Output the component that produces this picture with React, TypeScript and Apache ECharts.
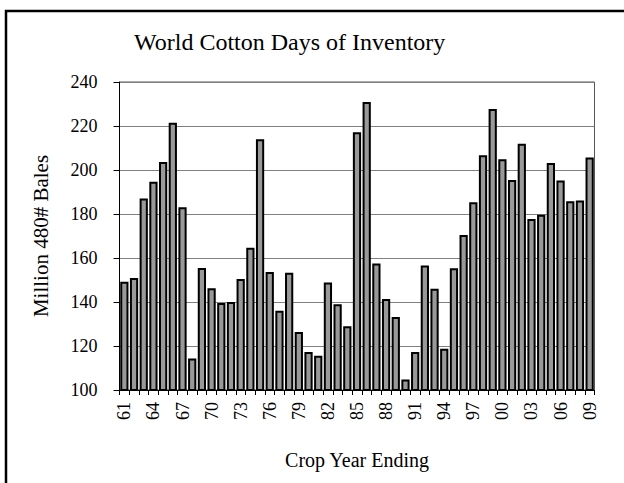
import React, { useEffect, useRef } from "react";
import * as echarts from "echarts";

const years: string[] = [
  "61","62","63","64","65","66","67","68","69","70",
  "71","72","73","74","75","76","77","78","79","80",
  "81","82","83","84","85","86","87","88","89","90",
  "91","92","93","94","95","96","97","98","99","00",
  "01","02","03","04","05","06","07","08","09",
];

const daysOfInventory: number[] = [
  149.2, 150.9, 187.0, 194.7, 203.6, 221.5, 183.1, 114.3, 155.4, 146.2,
  139.5, 140.0, 150.4, 164.7, 214.0, 153.6, 136.0, 153.3, 126.4, 117.3,
  115.6, 148.9, 139.0, 129.0, 217.2, 230.9, 157.5, 141.4, 133.2, 104.8,
  117.3, 156.6, 146.0, 118.7, 155.3, 170.4, 185.3, 206.7, 227.7, 204.9,
  195.5, 211.9, 177.7, 179.7, 203.2, 195.2, 185.8, 186.1, 205.7,
];

const yTicks = { min: 100, max: 240, interval: 20 };
const FONT = "Liberation Serif";

export default function App() {
  const ref = useRef<HTMLDivElement>(null);
  useEffect(() => {
    if (!ref.current) return;
    const chart = echarts.init(ref.current, null, { renderer: "svg" });
    chart.setOption({
      animation: false,
      backgroundColor: "#ffffff",
      textStyle: { fontFamily: FONT },
      title: {
        text: "World Cotton Days of Inventory",
        left: 129,
        top: 25,
        textStyle: { fontFamily: FONT, fontSize: 24, fontWeight: "normal", color: "#000" },
      },
      graphic: [
        {
          type: "rect",
          shape: { x: 6, y: 11, width: 650, height: 520 },
          style: { fill: "none", stroke: "#000", lineWidth: 2.5 },
          silent: true,
        },
      ],
      grid: {
        left: 119.5,
        right: 29.5,
        top: 82,
        bottom: 93,
        show: true,
        borderColor: "#555",
        borderWidth: 1,
        backgroundColor: "transparent",
      },
      xAxis: {
        type: "category",
        data: years,
        name: "Crop Year Ending",
        nameLocation: "middle",
        nameGap: 60,
        nameTextStyle: { fontFamily: FONT, fontSize: 20, color: "#000" },
        axisLine: { show: true, lineStyle: { color: "#000", width: 1 } },
        axisTick: { show: true, interval: 0, length: 5, lineStyle: { color: "#000" } },
        axisLabel: {
          interval: 2,
          rotate: 90,
          margin: 12,
          fontFamily: FONT,
          fontSize: 18,
          color: "#000",
          formatter: "{s|{value}}",
          rich: { s: { fontFamily: FONT, fontSize: 18, color: "#000" } },
        },
      },
      yAxis: {
        type: "value",
        min: yTicks.min,
        max: yTicks.max,
        interval: yTicks.interval,
        name: "Million 480# Bales",
        nameLocation: "middle",
        nameRotate: 90,
        nameGap: 68,
        nameTextStyle: { fontFamily: FONT, fontSize: 21, color: "#000" },
        axisLine: { show: true, lineStyle: { color: "#000", width: 1 } },
        axisTick: { show: true, length: 6, lineStyle: { color: "#000" } },
        axisLabel: {
          margin: 22,
          fontFamily: FONT,
          fontSize: 18,
          color: "#000",
          formatter: "{s|{value}}",
          rich: { s: { fontFamily: FONT, fontSize: 18, color: "#000" } },
        },
        splitLine: { show: true, lineStyle: { color: "#808080", width: 1 } },
      },
      series: [
        {
          type: "bar",
          data: daysOfInventory,
          barCategoryGap: "15%",
          itemStyle: { color: "#999999", borderColor: "#000", borderWidth: 2 },
        },
      ],
    });
    return () => chart.dispose();
  }, []);
  return (
    <div
      ref={ref}
      style={{ position: "fixed", left: 0, top: 0, width: 624, height: 483 }}
    />
  );
}
